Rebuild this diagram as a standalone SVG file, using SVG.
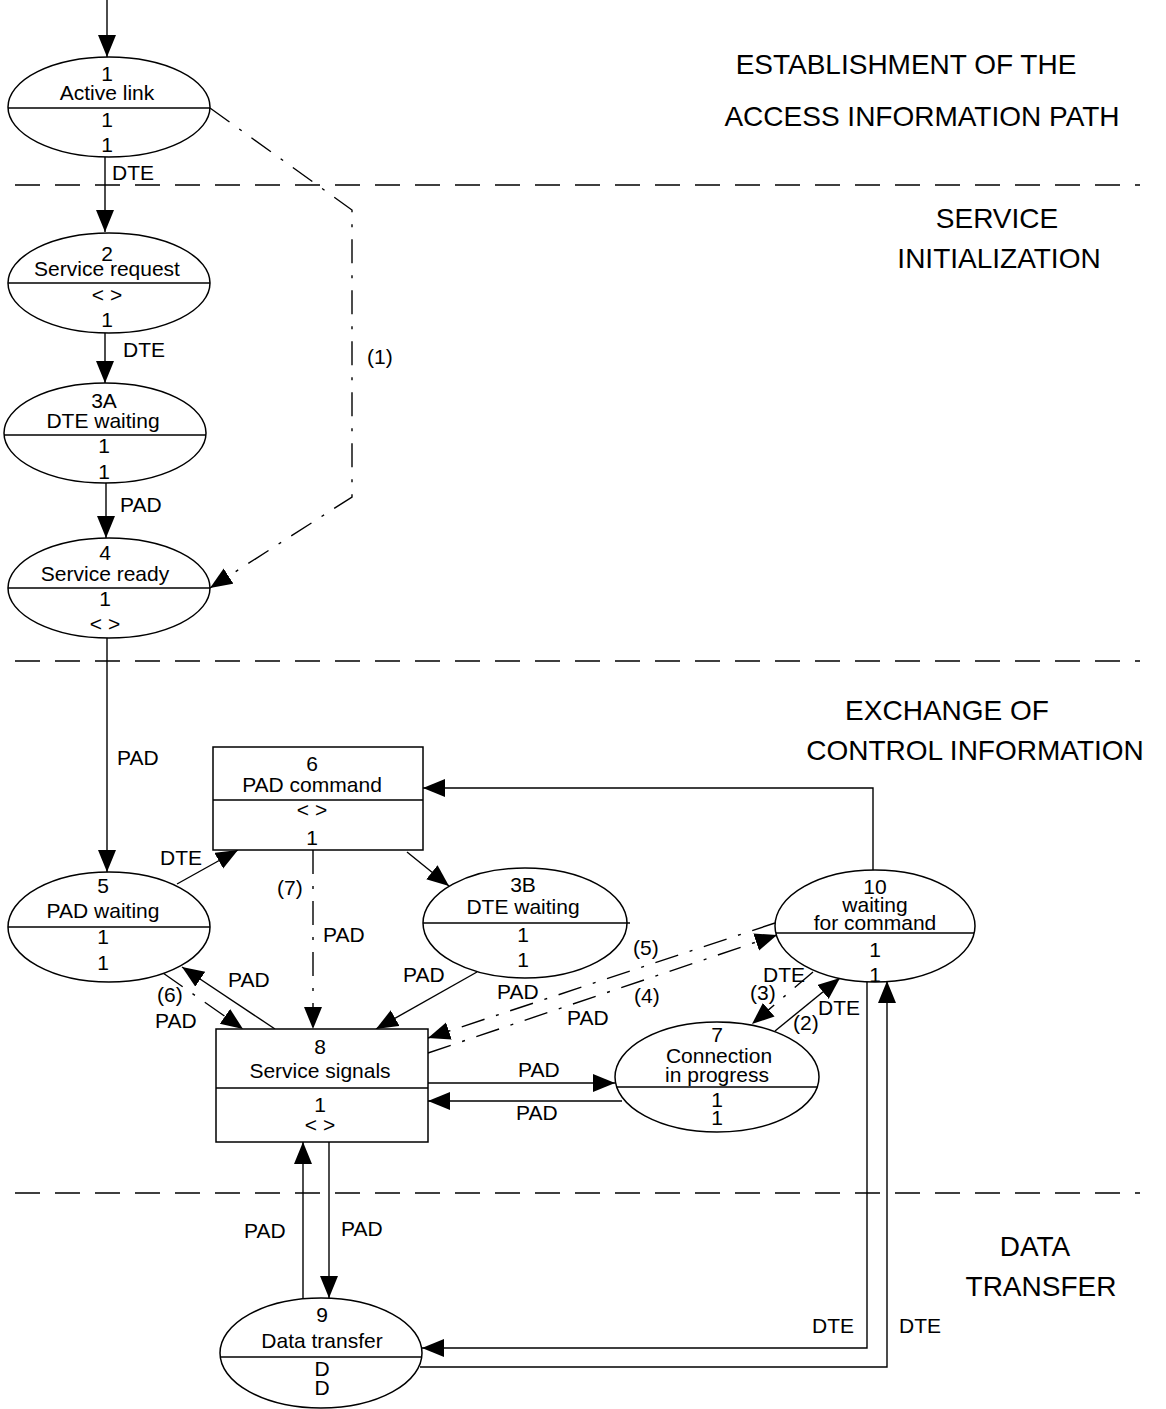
<svg xmlns="http://www.w3.org/2000/svg" width="1166" height="1409" viewBox="0 0 1166 1409">
<style>
text{font-family:"Liberation Sans",Arial,sans-serif;font-size:21px;fill:#000}
.c{text-anchor:middle}
.t{font-size:28px;text-anchor:middle}
.n{fill:#fff;stroke:#000;stroke-width:1.5}
.d{stroke:#000;stroke-width:1.4;fill:none}
.l{stroke:#000;stroke-width:1.4;fill:none}
.a{marker-end:url(#ah)}
.dd{stroke-dasharray:24,12,3,12}
.sep{stroke:#000;stroke-width:1.3;stroke-dasharray:25,15;fill:none}
</style>
<defs>
<marker id="ah" markerWidth="24" markerHeight="20" refX="22" refY="9" orient="auto" markerUnits="userSpaceOnUse"><path d="M0,0 L22,9 L0,18 z" fill="#000"/></marker>
</defs>
<rect width="1166" height="1409" fill="#fff"/>
<g id="separators">
<line class="sep" x1="15" y1="185" x2="1140" y2="185"/>
<line class="sep" x1="15" y1="661" x2="1140" y2="661"/>
<line class="sep" x1="15" y1="1193" x2="1140" y2="1193"/>
</g>
<g id="titles">
<text class="t" x="906" y="74">ESTABLISHMENT OF THE</text>
<text class="t" x="922" y="126">ACCESS INFORMATION PATH</text>
<text class="t" x="997" y="228">SERVICE</text>
<text class="t" x="999" y="268">INITIALIZATION</text>
<text class="t" x="947" y="720">EXCHANGE OF</text>
<text class="t" x="975" y="760">CONTROL INFORMATION</text>
<text class="t" x="1035" y="1256">DATA</text>
<text class="t" x="1041" y="1296">TRANSFER</text>
</g>
<g id="connectors">
<line class="l a" x1="107" y1="0" x2="107" y2="57"/>
<line class="l a" x1="105" y1="157" x2="105" y2="232"/>
<line class="l a" x1="105" y1="333" x2="105" y2="383"/>
<line class="l a" x1="106" y1="483" x2="106" y2="538"/>
<path class="l a dd" d="M210,108 L352,210 L352,497 L210,588"/>
<line class="l a" x1="107" y1="638" x2="107" y2="872"/>
<line class="l a" x1="177" y1="884" x2="238" y2="850"/>
<line class="l a" x1="407" y1="852" x2="449" y2="886"/>
<path class="l a" d="M873,870 L873,788 L423,788"/>
<line class="l a dd" x1="313" y1="850" x2="313" y2="1029"/>
<line class="l a" x1="477" y1="972" x2="376" y2="1029"/>
<line class="l a dd" x1="775" y1="923" x2="428" y2="1038"/>
<line class="l a dd" x1="428" y1="1053" x2="777" y2="935"/>
<line class="l a" x1="275" y1="1029" x2="182" y2="967"/>
<line class="l a dd" x1="163" y1="973" x2="243" y2="1029"/>
<line class="l a" x1="428" y1="1083" x2="615" y2="1083"/>
<line class="l a" x1="622" y1="1101" x2="428" y2="1101"/>
<line class="l a dd" x1="813" y1="972" x2="752" y2="1024"/>
<line class="l a" x1="775" y1="1031" x2="840" y2="978"/>
<line class="l a" x1="329" y1="1142" x2="329" y2="1298"/>
<line class="l a" x1="303" y1="1298" x2="303" y2="1142"/>
<path class="l a" d="M867,981 L867,1348 L422,1348"/>
<path class="l a" d="M420,1367 L887,1367 L887,981"/>
</g>
<g id="connector-labels">
<text x="112" y="180">DTE</text>
<text x="123" y="357">DTE</text>
<text x="120" y="512">PAD</text>
<text x="367" y="364">(1)</text>
<text x="117" y="765">PAD</text>
<text x="160" y="865">DTE</text>
<text x="277" y="895">(7)</text>
<text x="323" y="942">PAD</text>
<text x="403" y="982">PAD</text>
<text x="633" y="955">(5)</text>
<text x="634" y="1003">(4)</text>
<text x="497" y="999">PAD</text>
<text x="567" y="1025">PAD</text>
<text x="228" y="987">PAD</text>
<text x="157" y="1002">(6)</text>
<text x="155" y="1028">PAD</text>
<text x="763" y="982">DTE</text>
<text x="750" y="1000">(3)</text>
<text x="818" y="1015">DTE</text>
<text x="793" y="1030">(2)</text>
<text x="518" y="1077">PAD</text>
<text x="516" y="1120">PAD</text>
<text x="244" y="1238">PAD</text>
<text x="341" y="1236">PAD</text>
<text x="812" y="1333">DTE</text>
<text x="899" y="1333">DTE</text>
</g>
<g id="node1">
<ellipse class="n" cx="109" cy="107" rx="101" ry="50"/>
<line class="d" x1="8" y1="108" x2="210" y2="108"/>
<text class="c" x="107" y="81">1</text>
<text class="c" x="107" y="100">Active link</text>
<text class="c" x="107" y="127">1</text>
<text class="c" x="107" y="152">1</text>
</g>
<g id="node2">
<ellipse class="n" cx="109" cy="283" rx="101" ry="50"/>
<line class="d" x1="8" y1="283" x2="210" y2="283"/>
<text class="c" x="107" y="261">2</text>
<text class="c" x="107" y="276">Service request</text>
<text class="c" x="107" y="302">&lt; &gt;</text>
<text class="c" x="107" y="327">1</text>
</g>
<g id="node3A">
<ellipse class="n" cx="105" cy="433" rx="101" ry="50"/>
<line class="d" x1="4" y1="435" x2="206" y2="435"/>
<text class="c" x="104" y="408">3A</text>
<text class="c" x="103" y="428">DTE waiting</text>
<text class="c" x="104" y="453">1</text>
<text class="c" x="104" y="479">1</text>
</g>
<g id="node4">
<ellipse class="n" cx="109" cy="588" rx="101" ry="50"/>
<line class="d" x1="8" y1="588" x2="210" y2="588"/>
<text class="c" x="105" y="560">4</text>
<text class="c" x="105" y="581">Service ready</text>
<text class="c" x="105" y="606">1</text>
<text class="c" x="105" y="631">&lt; &gt;</text>
</g>
<g id="node5">
<ellipse class="n" cx="109" cy="927" rx="101" ry="55"/>
<line class="d" x1="8" y1="927" x2="210" y2="927"/>
<text class="c" x="103" y="893">5</text>
<text class="c" x="103" y="918">PAD waiting</text>
<text class="c" x="103" y="944">1</text>
<text class="c" x="103" y="970">1</text>
</g>
<g id="node6">
<rect class="n" x="213" y="747" width="210" height="103"/>
<line class="d" x1="213" y1="800" x2="423" y2="800"/>
<text class="c" x="312" y="771">6</text>
<text class="c" x="312" y="792">PAD command</text>
<text class="c" x="312" y="817">&lt; &gt;</text>
<text class="c" x="312" y="845">1</text>
</g>
<g id="node3B">
<ellipse class="n" cx="525" cy="923" rx="102" ry="55"/>
<line class="d" x1="423" y1="923" x2="630" y2="923"/>
<text class="c" x="523" y="892">3B</text>
<text class="c" x="523" y="914">DTE waiting</text>
<text class="c" x="523" y="942">1</text>
<text class="c" x="523" y="967">1</text>
</g>
<g id="node10">
<ellipse class="n" cx="875" cy="926" rx="100" ry="56"/>
<line class="d" x1="776" y1="933" x2="974" y2="933"/>
<text class="c" x="875" y="894">10</text>
<text class="c" x="875" y="912">waiting</text>
<text class="c" x="875" y="930">for command</text>
<text class="c" x="875" y="957">1</text>
<text class="c" x="875" y="982">1</text>
</g>
<g id="node8">
<rect class="n" x="216" y="1029" width="212" height="113"/>
<line class="d" x1="216" y1="1088" x2="428" y2="1088"/>
<text class="c" x="320" y="1054">8</text>
<text class="c" x="320" y="1078">Service signals</text>
<text class="c" x="320" y="1112">1</text>
<text class="c" x="320" y="1132">&lt; &gt;</text>
</g>
<g id="node7">
<ellipse class="n" cx="717" cy="1077" rx="102" ry="55"/>
<line class="d" x1="617" y1="1087" x2="817" y2="1087"/>
<text class="c" x="717" y="1042">7</text>
<text class="c" x="719" y="1063">Connection</text>
<text class="c" x="717" y="1082">in progress</text>
<text class="c" x="717" y="1107">1</text>
<text class="c" x="717" y="1125">1</text>
</g>
<g id="node9">
<ellipse class="n" cx="321" cy="1353" rx="101" ry="55"/>
<line class="d" x1="220" y1="1357" x2="422" y2="1357"/>
<text class="c" x="322" y="1322">9</text>
<text class="c" x="322" y="1348">Data transfer</text>
<text class="c" x="322" y="1376">D</text>
<text class="c" x="322" y="1395">D</text>
</g>
</svg>
